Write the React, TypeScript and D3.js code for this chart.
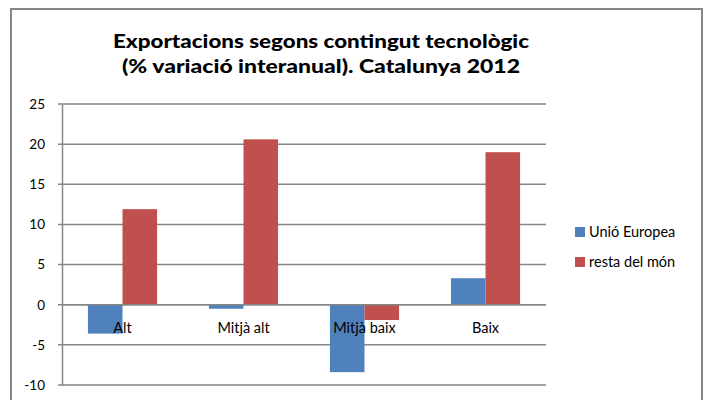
import * as d3 from "d3";
import { useEffect, useRef } from "react";

const categories = ["Alt", "Mitjà alt", "Mitjà baix", "Baix"];
const seriesNames = ["Unió Europea", "resta del món"];
const ueValues = [-3.6, -0.5, -8.4, 3.3];
const restaValues = [11.9, 20.6, -1.9, 19.0];
const yTicks = [-10, -5, 0, 5, 10, 15, 20, 25];
const titleLines = ["Exportacions segons contingut tecnològic", "(% variació interanual). Catalunya 2012"];

export default function App() {
  const ref = useRef<SVGSVGElement>(null);

  useEffect(() => {
    const width = 704;
    const margin = { top: 104, left: 62, right: 158, bottom: 15 };
    const colors = ["#4F81BD", "#C0504D"];
    const font = "Lato, 'Open Sans', sans-serif";

    const svg = d3.select(ref.current);
    svg.selectAll("*").remove();

    // chart frame
    svg.append("rect")
      .attr("x", 11).attr("y", 9)
      .attr("width", 691).attr("height", 400)
      .attr("fill", "#fff")
      .attr("stroke", "#868686")
      .attr("stroke-width", 2);

    // title
    const titleWidths = [416, 398];
    svg.append("g").selectAll("text")
      .data(titleLines)
      .join("text")
      .attr("x", 321)
      .attr("y", (d, i) => 48 + i * 25)
      .attr("text-anchor", "middle")
      .attr("font-family", font)
      .attr("font-weight", 900)
      .attr("font-size", 19.5)
      .attr("textLength", (d, i) => titleWidths[i])
      .attr("lengthAdjust", "spacingAndGlyphs")
      .attr("fill", "#000")
      .text(d => d);

    const y = d3.scaleLinear()
      .domain([-10, 25])
      .range([385, margin.top]);

    const x0 = d3.scaleBand()
      .domain(categories)
      .range([margin.left, width - margin.right])
      .paddingInner(0.4286)
      .paddingOuter(0.2143);

    const x1 = d3.scaleBand()
      .domain(seriesNames)
      .range([0, x0.bandwidth()]);

    // gridlines
    svg.append("g").selectAll("line")
      .data(yTicks)
      .join("line")
      .attr("x1", margin.left - 4)
      .attr("x2", width - margin.right)
      .attr("y1", d => y(d))
      .attr("y2", d => y(d))
      .attr("stroke", "#868686")
      .attr("stroke-width", 1.5);

    // y axis
    const yAxis = d3.axisLeft(y).tickValues(yTicks).tickSize(0).tickPadding(17)
      .tickFormat(d => String(d));
    const gy = svg.append("g")
      .attr("transform", `translate(${margin.left}, 0)`)
      .call(yAxis);
    gy.select(".domain").attr("stroke", "#868686").attr("stroke-width", 1.5);
    gy.selectAll("text")
      .attr("font-family", font)
      .attr("font-size", 13.5)
      .attr("fill", "#000");

    // bars
    const data = categories.map((c, i) => ({ cat: c, vals: [ueValues[i], restaValues[i]] }));
    svg.append("g").selectAll("g")
      .data(data)
      .join("g")
      .attr("transform", d => `translate(${x0(d.cat)}, 0)`)
      .selectAll("rect")
      .data(d => d.vals.map((v, j) => ({ name: seriesNames[j], v, j })))
      .join("rect")
      .attr("x", d => x1(d.name)!)
      .attr("width", x1.bandwidth())
      .attr("y", d => y(Math.max(0, d.v)))
      .attr("height", d => Math.abs(y(d.v) - y(0)))
      .attr("fill", d => colors[d.j]);

    // zero axis line
    svg.append("line")
      .attr("x1", margin.left)
      .attr("x2", width - margin.right)
      .attr("y1", y(0))
      .attr("y2", y(0))
      .attr("stroke", "#868686")
      .attr("stroke-width", 1.5);

    // category labels
    const xAxis = d3.axisBottom(x0).tickSize(0).tickPadding(18);
    const gx = svg.append("g")
      .attr("transform", `translate(0, ${y(0)})`)
      .call(xAxis);
    gx.select(".domain").remove();
    gx.selectAll("text")
      .attr("font-family", font)
      .attr("font-size", 14.5)
      .attr("fill", "#000");

    // legend
    const legend = svg.append("g").selectAll("g")
      .data(seriesNames)
      .join("g")
      .attr("transform", (d, i) => `translate(575, ${227 + i * 30})`);
    legend.append("rect")
      .attr("width", 10).attr("height", 10)
      .attr("fill", (d, i) => colors[i]);
    legend.append("text")
      .attr("x", 14).attr("y", 10)
      .attr("font-family", font)
      .attr("font-size", 14.5)
      .attr("fill", "#000")
      .text(d => d);
  }, []);

  return (
    <svg ref={ref} width={704} height={400}
      style={{ position: "absolute", left: 0, top: 0, background: "#fff" }} />
  );
}
